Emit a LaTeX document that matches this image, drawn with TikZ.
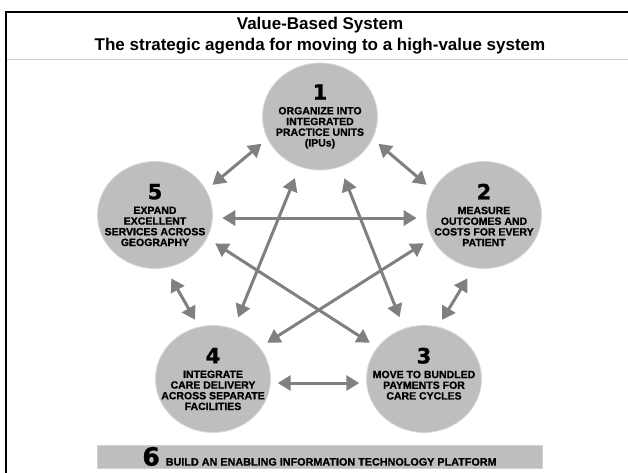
\documentclass[tikz,border=0pt]{standalone}
\usepackage{fontspec}
\setmainfont{Liberation Sans}
\newfontfamily\stagefont{Liberation Sans}[BoldFeatures={FakeBold=0.9}]
\newfontfamily\digitfont{DejaVu Sans}[BoldFeatures={FakeBold=1.2}]
\usetikzlibrary{arrows.meta, shapes.geometric}
\definecolor{stagegray}{HTML}{BEBEBE}
\definecolor{arrowgray}{HTML}{808080}
\definecolor{rulegray}{HTML}{CCCCCC}
\newcommand{\stagenum}[2]{{\digitfont\bfseries\fontsize{#2}{#2}\selectfont #1}}

\begin{document}
\begin{tikzpicture}[
        x=1pt, y=-1pt,
        heading/.style={anchor=base, font=\bfseries\fontsize{17}{20}\selectfont},
        stage/.style={ellipse, fill=stagegray, draw=stagegray!60!white, line width=0.8pt,
                      align=center, inner xsep=-16pt, inner ysep=0pt,
                      minimum width=115pt, minimum height=107pt,
                      font=\stagefont\bfseries\fontsize{10.5}{10.7}\selectfont},
        platform/.style={rectangle, fill=stagegray, draw=stagegray!70!white,
                         minimum width=445pt, minimum height=23pt, inner sep=0pt,
                         font=\stagefont\bfseries\fontsize{10.8}{12}\selectfont},
        link/.style={{Triangle[width=15pt,length=13pt]}-{Triangle[width=15pt,length=13pt]},
                     draw=arrowgray, fill=arrowgray, line width=3pt}
    ]
    \useasboundingbox (0,0) rectangle (628,473);
    % frame and title
    \draw[line width=2.4pt] (6,473) -- (6,12) -- (628,12);
    \draw[rulegray, line width=1pt] (7.2,60) -- (628,60);
    \node [heading] (title) at (320,30) {Value-Based System};
    \node [heading] (subtitle) at (320,51) {The strategic agenda for moving to a high-value system};
    % the five stages
    \node [stage] (c1) at (320,116.5) {\stagenum{1}{21}\\[4pt]ORGANIZE INTO\\INTEGRATED\\PRACTICE UNITS\\(IPUs)};
    \node [stage] (c2) at (484,215) {\stagenum{2}{21}\\[4pt]MEASURE\\OUTCOMES AND\\COSTS FOR EVERY\\PATIENT};
    \node [stage] (c3) at (424,379) {\stagenum{3}{21}\\[4pt]MOVE TO BUNDLED\\PAYMENTS FOR\\CARE CYCLES\\\mbox{}};
    \node [stage] (c4) at (213,379) {\stagenum{4}{21}\\[4pt]INTEGRATE\\CARE DELIVERY\\ACROSS SEPARATE\\FACILITIES};
    \node [stage] (c5) at (155,215) {\stagenum{5}{21}\\[4pt]EXPAND\\EXCELLENT\\SERVICES ACROSS\\GEOGRAPHY};
    \node [platform] (c6) at (319.5,456.5) {\stagenum{6}{25}\hspace{6pt}BUILD AN ENABLING INFORMATION TECHNOLOGY PLATFORM};
    % neighbours
    \draw[link, shorten <=7.5pt, shorten >=8pt] (c1.-23) -- (c2.154);
    \draw[link, shorten <=12pt, shorten >=8pt] (c2.259) -- (c3.75);
    \draw[link, shorten <=7pt, shorten >=7pt] (c4.-4) -- (c3.184);
    \draw[link, shorten <=8pt, shorten >=12pt] (c4.105) -- (c5.-79);
    \draw[link, shorten <=8pt, shorten >=7.5pt] (c5.26) -- (c1.203);
    % across
    \draw[link, shorten <=12pt, shorten >=12pt] (c1) -- (c3);
    \draw[link, shorten <=12pt, shorten >=12pt] (c1) -- (c4);
    \draw[link, shorten <=9.5pt, shorten >=9.5pt] (c5.-3) -- (c2.183);
    \draw[link, shorten <=9.5pt, shorten >=8.7pt] (c5.-24) -- (c3.146);
    \draw[link, shorten <=9.5pt, shorten >=8.7pt] (c2.204) -- (c4.34);
\end{tikzpicture}
\end{document}
